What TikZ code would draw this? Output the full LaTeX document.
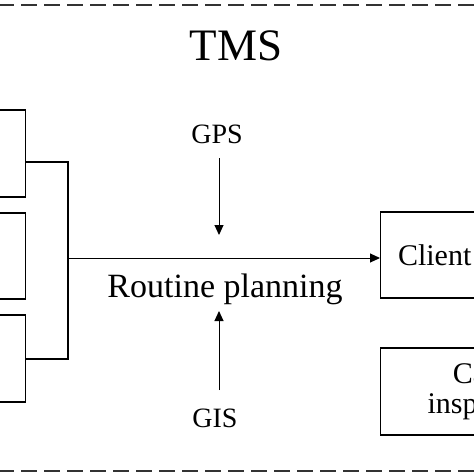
\documentclass[tikz,border=0pt]{standalone}
\usepackage{fontspec}
\setmainfont{Liberation Serif}
\usetikzlibrary{arrows.meta,positioning,calc}

\tikzset{
  box/.style={draw,line width=1.4pt,rectangle,inner sep=0pt,minimum height=86pt},
  arr/.style={line width=1pt,-{Triangle[length=10pt,width=9pt]}},
  link/.style={line width=1.6pt},
  frame/.style={line width=2.5pt,dash pattern=on 16pt off 7pt,color=black!80}
}

\begin{document}
\begin{tikzpicture}[x=1pt,y=-1pt]
  \useasboundingbox (0,0) rectangle (474,474);
  \clip (0,0) rectangle (474,474);

  % Dashed frame of the system
  \draw[frame] (-2,5) -- (476,5);
  \draw[frame] (-2,471) -- (476,471);
  \node[font=\fontsize{45}{48}\selectfont,anchor=base] (tms) at (236,60) {TMS};

  % Boxes on the left
  \node[box,minimum width=80pt,minimum height=87pt,anchor=east] (src1) at (26,153.5) {};
  \node[box,minimum width=80pt,anchor=east] (src2) at (26,256) {};
  \node[box,minimum width=80pt,minimum height=87pt,anchor=east] (src3) at (26,358.5) {};

  % Planning and its inputs
  \node[font=\fontsize{34}{36}\selectfont,anchor=base] (plan) at (225,297) {Routine planning};
  \node[font=\fontsize{28}{30}\selectfont,anchor=base] (gps) at (217,143) {GPS};
  \node[font=\fontsize{28}{30}\selectfont,anchor=base] (gis) at (215,427) {GIS};

  % Boxes on the right
  \node[box,minimum width=108pt,anchor=west,font=\fontsize{30}{31}\selectfont] (client) at (380,255) {Client};
  \node[box,minimum width=217pt,minimum height=87pt,anchor=west,align=center,
        font=\fontsize{30}{30}\selectfont] (cargo) at (380,391.5) {Cargo\\inspection};

  % Connectors
  \coordinate (jtop) at (68,162);
  \coordinate (jmid) at (68,258);
  \coordinate (jbot) at (68,359);
  \coordinate (gpsout) at (219,158);
  \coordinate (gpsin) at (219,235);
  \coordinate (gisout) at (219,390);
  \coordinate (gisin) at (219,311);
  \draw[link] (jtop -| src1.east) -- (jtop) -- (jbot) -- (jbot -| src3.east);
  \draw[arr] (jmid) -- (jmid -| client.west);
  \draw[arr] (gpsout) -- (gpsin);
  \draw[arr] (gisout) -- (gisin);
\end{tikzpicture}
\end{document}
